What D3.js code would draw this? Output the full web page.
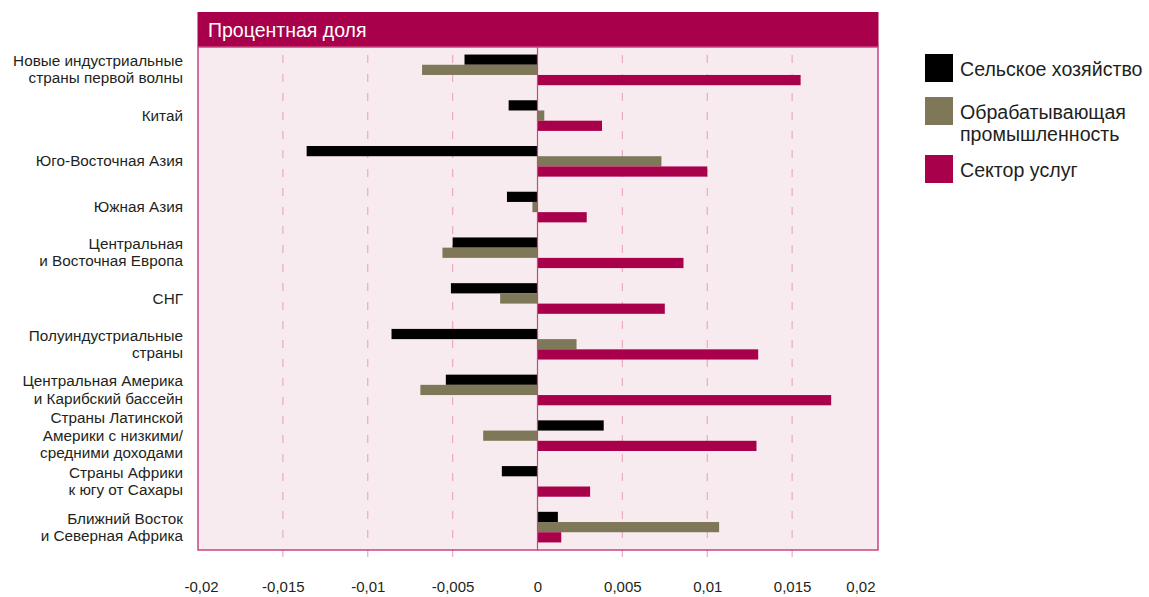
<!DOCTYPE html>
<html><head><meta charset="utf-8">
<script src="https://cdn.jsdelivr.net/npm/d3@7"></script>
<style>
body{margin:0;background:#fff;}
text{font-family:"Liberation Sans",Arial,sans-serif;}
</style></head>
<body>
<svg id="chart" width="1149" height="597"></svg>
<script>
const categories = [
  ["Новые индустриальные","страны первой волны"],
  ["Китай"],
  ["Юго-Восточная Азия"],
  ["Южная Азия"],
  ["Центральная","и Восточная Европа"],
  ["СНГ"],
  ["Полуиндустриальные","страны"],
  ["Центральная Америка","и Карибский бассейн"],
  ["Страны Латинской","Америки с низкими/","средними доходами"],
  ["Страны Африки","к югу от Сахары"],
  ["Ближний Восток","и Северная Африка"]
];
const seriesNames = ["Сельское хозяйство", "Обрабатывающая промышленность", "Сектор услуг"];
const legendLabels = [["Сельское хозяйство"],["Обрабатывающая","промышленность"],["Сектор услуг"]];
const agriculture   = [-0.0043, -0.0017, -0.0136, -0.0018, -0.0050, -0.0051, -0.0086, -0.0054,  0.0039, -0.0021, 0.0012];
const manufacturing = [-0.0068,  0.0004,  0.0073, -0.0003, -0.0056, -0.0022,  0.0023, -0.0069, -0.0032,  0.0000, 0.0107];
const services      = [ 0.0155,  0.0038,  0.0100,  0.0029,  0.0086,  0.0075,  0.0130,  0.0173,  0.0129,  0.0031, 0.0014];
const tickValues = [-0.02, -0.015, -0.01, -0.005, 0, 0.005, 0.01, 0.015, 0.02];
const tickLabels = ["-0,02","-0,015","-0,01","-0,005","0","0,005","0,01","0,015","0,02"];
const title = "Процентная доля";
const colors = ["#000000", "#7f7858", "#a8004a"];

const svg = d3.select("#chart");
const L = 198, R = 877, T = 47, B = 550;
const x = d3.scaleLinear().domain([-0.02, 0.02]).range([L, R]);
const y = d3.scaleBand().domain(d3.range(categories.length)).range([T, B]).paddingInner(0.33).paddingOuter(0.165);
const sub = d3.scaleBand().domain(d3.range(3)).range([0, y.bandwidth()]);

// background
svg.append("rect").attr("x", L).attr("y", T).attr("width", R - L + 1).attr("height", B - T)
  .attr("fill", "#f8ebf0");
// header
svg.append("rect").attr("x", L - 0.5).attr("y", 12).attr("width", R - L + 2).attr("height", T - 12)
  .attr("fill", "#a8004a");
svg.append("text").attr("x", 208).attr("y", 37).attr("fill", "#fff").attr("font-size", 19.5)
  .attr("font-family", "Noto Sans, sans-serif").text(title);

// gridlines
svg.append("g").selectAll("line").data(tickValues.filter(v => v !== 0 && Math.abs(v) < 0.02)).join("line")
  .attr("x1", d => x(d)).attr("x2", d => x(d)).attr("y1", T + 8).attr("y2", 562)
  .attr("stroke", "#eaa9c4").attr("stroke-width", 1.2).attr("stroke-dasharray", "8,11");

// bars
const series = [agriculture, manufacturing, services];
series.forEach((vals, si) => {
  svg.append("g").selectAll("rect").data(vals).join("rect")
    .attr("x", d => x(Math.min(0, d)))
    .attr("width", d => Math.abs(x(d) - x(0)))
    .attr("y", (d, i) => y(i) + sub(si))
    .attr("height", sub.bandwidth())
    .attr("fill", colors[si]);
});

// zero line
svg.append("line").attr("x1", x(0)).attr("x2", x(0)).attr("y1", T).attr("y2", B)
  .attr("stroke", "#c8457f").attr("stroke-width", 1.2);
// frame
svg.append("rect").attr("x", L).attr("y", T).attr("width", R - L + 1).attr("height", B - T)
  .attr("fill", "none").attr("stroke", "#c8457f").attr("stroke-width", 1.5);

// category labels (one text per line)
const lh = 17.2;
const lab = svg.append("g");
categories.forEach((lines, i) => {
  const cy = y(i) + y.bandwidth() / 2;
  lines.forEach((ln, k) => {
    lab.append("text").attr("text-anchor", "end").attr("font-size", 15.3).attr("fill", "#231f20")
      .attr("x", 183).attr("y", cy + (k - (lines.length - 1) / 2) * lh + 5).text(ln);
  });
});

// x axis labels
const axis = d3.axisBottom(x).tickValues(tickValues).tickFormat((d, i) => tickLabels[i]).tickSize(0);
const ax = svg.append("g").attr("transform", "translate(0,592)").call(axis);
ax.select(".domain").remove();
ax.selectAll("text").attr("font-size", 15).attr("fill", "#231f20").attr("font-family", "Liberation Sans, Arial, sans-serif")
  .attr("y", 0).attr("dy", 0);
ax.selectAll(".tick").filter(d => d === 0.02).select("text").attr("text-anchor", "end").attr("dx", -2);
ax.selectAll(".tick").filter(d => d === -0.02).select("text").attr("dx", 3);

// legend
const lg = svg.append("g");
const ly = [54, 97, 155];
legendLabels.forEach((lines, i) => {
  lg.append("rect").attr("x", 925).attr("y", ly[i]).attr("width", 28).attr("height", 28).attr("fill", colors[i]);
  lines.forEach((ln, k) => {
    lg.append("text").attr("font-size", 19.6).attr("fill", "#231f20")
      .attr("x", 960).attr("y", ly[i] + 22 + k * 22 + (lines.length > 1 ? 0 : 0)).text(ln);
  });
});
</script>
</body></html>
